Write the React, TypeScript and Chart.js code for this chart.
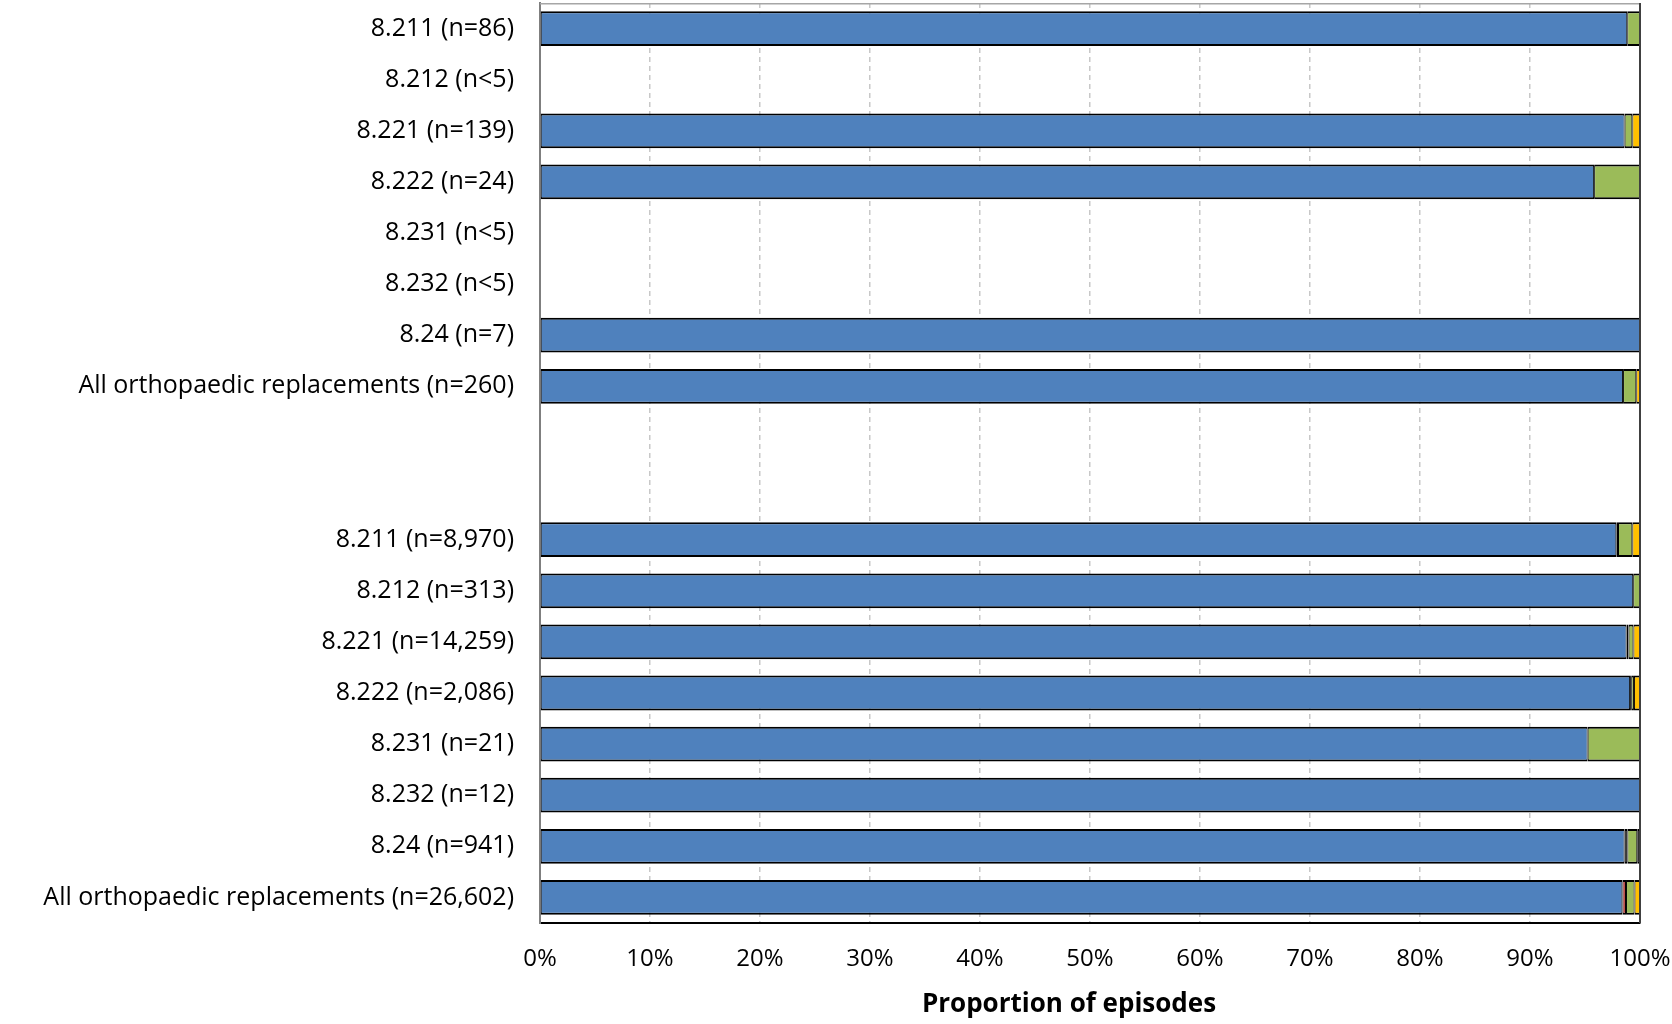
import React, { useEffect, useRef } from "react";
import { Chart, registerables } from "chart.js";

Chart.register(...registerables);

const categories: string[] = [
  "8.211 (n=86)",
  "8.212 (n<5)",
  "8.221 (n=139)",
  "8.222 (n=24)",
  "8.231 (n<5)",
  "8.232 (n<5)",
  "8.24 (n=7)",
  "All orthopaedic replacements (n=260)",
  "",
  " ",
  "8.211 (n=8,970)",
  "8.212 (n=313)",
  "8.221 (n=14,259)",
  "8.222 (n=2,086)",
  "8.231 (n=21)",
  "8.232 (n=12)",
  "8.24 (n=941)",
  "All orthopaedic replacements (n=26,602)",
];

const seriesBlue: (number | null)[] = [98.84, null, 98.6, 95.83, null, null, 100, 98.46, null, null, 97.85, 99.38, 98.78, 99.1, 95.24, 100, 98.6, 98.4];
const seriesRed: (number | null)[] = [null, null, null, null, null, null, null, null, null, null, null, null, null, null, null, null, null, 0.33];
const seriesBlack: (number | null)[] = [null, null, null, null, null, null, null, null, null, null, 0.15, null, 0.18, 0.1, null, null, 0.25, null];
const seriesGreen: (number | null)[] = [1.16, null, 0.7, 4.17, null, null, null, 1.2, null, null, 1.3, 0.62, 0.44, 0.25, 4.76, null, 0.9, 0.77];
const seriesYellow: (number | null)[] = [null, null, 0.7, null, null, null, null, 0.34, null, null, 0.7, null, 0.6, 0.55, null, null, null, 0.5];
const seriesOther: (number | null)[] = [null, null, null, null, null, null, null, null, null, null, null, null, null, null, null, null, 0.25, null];

const xTicks: number[] = [0, 10, 20, 30, 40, 50, 60, 70, 80, 90, 100];
const xTitle = "Proportion of episodes";

const FONT = "'Open Sans', Lato, sans-serif";

const frame = {
  id: "frame",
  afterDatasetsDraw(chart: any) {
    const { ctx, chartArea } = chart;
    ctx.save();
    ctx.strokeStyle = "#a6a6a6";
    ctx.lineWidth = 1.5;
    ctx.beginPath();
    ctx.moveTo(chartArea.left, chartArea.top + 0.75);
    ctx.lineTo(chartArea.right, chartArea.top + 0.75);
    ctx.stroke();
    ctx.strokeStyle = "#404040";
    ctx.lineWidth = 2;
    ctx.beginPath();
    ctx.moveTo(chartArea.right, chartArea.top);
    ctx.lineTo(chartArea.right, chartArea.bottom);
    ctx.stroke();
    ctx.restore();
  },
  afterDraw(chart: any) {
    const { ctx, chartArea } = chart;
    ctx.save();
    ctx.fillStyle = "#000";
    ctx.font = `bold 26px ${FONT}`;
    ctx.textAlign = "center";
    ctx.textBaseline = "middle";
    ctx.fillText(xTitle, (chartArea.left + chartArea.right) / 2 - 21, chartArea.bottom + 82);
    ctx.restore();
  },
};

export default function App() {
  const ref = useRef<HTMLCanvasElement | null>(null);

  useEffect(() => {
    document.body.style.margin = "0";
    if (!ref.current) return;
    const mk = (label: string, data: (number | null)[], color: string) => ({
      label,
      data,
      backgroundColor: color,
      borderColor: "#000000",
      borderWidth: { top: 2, bottom: 2, left: 1, right: 1 },
      borderSkipped: false,
      barPercentage: 0.68,
      categoryPercentage: 1,
      inflateAmount: 0,
    });
    const chart = new Chart(ref.current, {
      type: "bar",
      data: {
        labels: categories,
        datasets: [
          mk("Series 1", seriesBlue, "#4f81bd"),
          mk("Series 2", seriesRed, "#c0504d"),
          mk("Series 3", seriesBlack, "#000000"),
          mk("Series 4", seriesGreen, "#9bbb59"),
          mk("Series 5", seriesYellow, "#ffc000"),
          mk("Series 6", seriesOther, "#000000"),
        ] as any,
      },
      options: {
        indexAxis: "y",
        animation: false,
        responsive: false,
        maintainAspectRatio: false,
        layout: { padding: { left: 0, right: 32, top: 3, bottom: 0 } },
        plugins: {
          legend: { display: false },
          tooltip: { enabled: false },
        },
        scales: {
          x: {
            stacked: true,
            min: 0,
            max: 100,
            afterBuildTicks: (scale: any) => {
              scale.ticks = xTicks.map((v) => ({ value: v }));
            },
            afterFit: (scale: any) => {
              scale.height = 101;
              scale.paddingLeft = 0;
              scale.paddingRight = 0;
            },
            ticks: {
              callback: (v: any) => v + "%",
              color: "#000",
              font: { family: FONT, size: 24 },
              padding: 22,
              maxRotation: 0,
            },
            grid: {
              drawTicks: false,
              color: (c: any) =>
                c.tick && (c.tick.value === 0 || c.tick.value === 100) ? "rgba(0,0,0,0)" : "#c8c8c8",
              lineWidth: 1.5,
            },
            border: { display: true, color: "#000", width: 2, dash: [5, 4], dashOffset: 0 },
            title: { display: false },
          } as any,
          y: {
            stacked: true,
            afterFit: (scale: any) => {
              scale.width = 540;
              scale.paddingTop = 0;
              scale.paddingBottom = 0;
            },
            ticks: {
              color: "#000",
              font: { family: FONT, size: 25 },
              padding: 26,
              autoSkip: false,
            },
            grid: { display: false, drawTicks: false },
            border: { display: true, color: "#7f7f7f", width: 2 },
          },
        },
      },
      plugins: [frame],
    } as any);
    return () => chart.destroy();
  }, []);

  return (
    <div style={{ position: "absolute", left: 0, top: 0, width: 1672, height: 1024, background: "#fff" }}>
      <canvas ref={ref} width={1672} height={1024} style={{ width: 1672, height: 1024 }} />
    </div>
  );
}
